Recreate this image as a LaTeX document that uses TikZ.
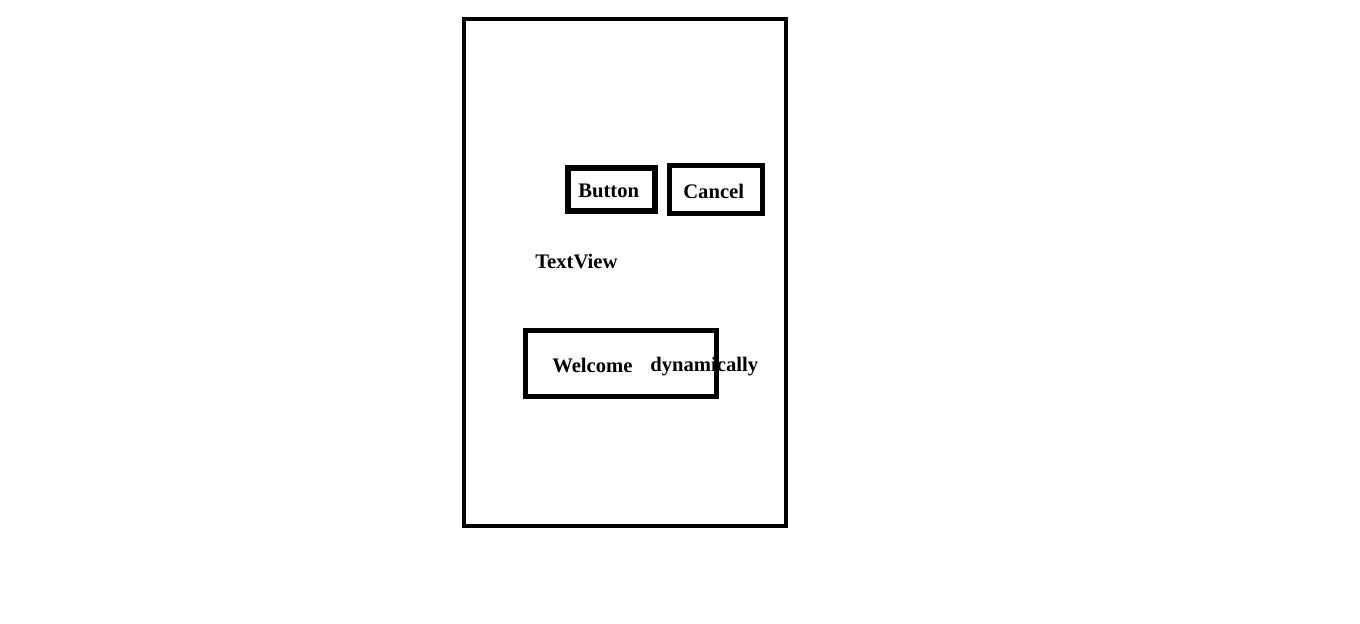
\documentclass[tikz,border=0pt]{standalone}
\usepackage{fontspec}
\setmainfont{Liberation Serif}
\begin{document}
\begin{tikzpicture}[x=0.75pt,y=-0.75pt,
    frame/.style={draw,line width=3.5pt,inner sep=0pt},
    widget/.style={frame,line width=3.9pt},
    label/.style={anchor=base west,inner sep=0pt,font=\fontsize{15.5}{18}\selectfont\bfseries}]
      \useasboundingbox (0,0) rectangle (1360,624);
      % screen and widgets
      \node[frame,minimum width=241.5pt,minimum height=380.25pt] (screen) at (625,272.5) {};
      \node[widget,minimum width=65.25pt,minimum height=32.25pt] (btnbox) at (611.5,189.5) {};
      \node[widget,minimum width=69.75pt,minimum height=36pt] (cancelbox) at (716,189.5) {};
      \node[widget,minimum width=143.25pt,minimum height=49.5pt] (welcomebox) at (621,363.5) {};
      % texts
      \node[label] (button) at (578,198) {Button};
      \node[label] (cancel) at (683,199) {Cancel};
      \node[label] (textview) at (535,268) {TextView};
      \node[label] (welcome) at (552,372) {Welcome};
      \node[label] (dyn) at (650,371) {dynamically};
    \end{tikzpicture}
\end{document}
